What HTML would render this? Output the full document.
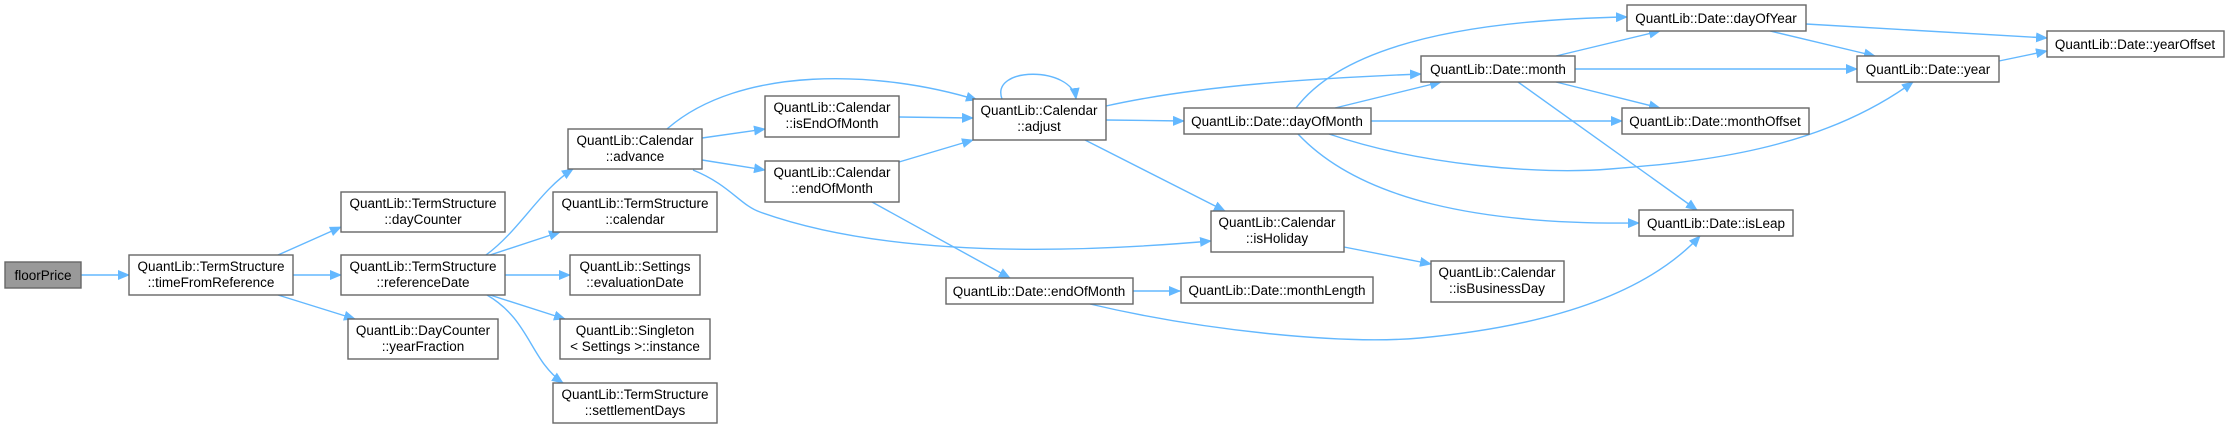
<!DOCTYPE html>
<html><head><meta charset="utf-8"><style>
html,body{margin:0;padding:0;background:#fff;}
svg{display:block;}
text{font-family:"Liberation Sans",Arial,sans-serif;font-size:13.5px;fill:#000;text-anchor:middle;}
.n{fill:#fff;stroke:#666;stroke-width:1.4;}
.e{fill:none;stroke:#63b8ff;stroke-width:1.4;}
</style></head><body>
<svg width="2229" height="429" viewBox="0 0 2229 429" xmlns="http://www.w3.org/2000/svg">
<defs><marker id="a" markerWidth="12" markerHeight="10" refX="11" refY="5" orient="auto" markerUnits="userSpaceOnUse"><path d="M0,0 L12,5 L0,10 z" fill="#63b8ff"/></marker></defs>
<g class="e" marker-end="url(#a)">
<path d="M81,275 L129,275"/>
<path d="M278,255 L341,227"/>
<path d="M293,275 L341,275"/>
<path d="M278,295 L355,319"/>
<path d="M486,255 C520,230 540,190 573,169"/>
<path d="M490,255 L560,232"/>
<path d="M505,275 L570,275"/>
<path d="M490,295 L565,319"/>
<path d="M487,295 C530,320 530,360 563,383"/>
<path d="M702,138 L765,129"/>
<path d="M702,160 L765,170"/>
<path d="M667,129 C740,65 880,70 977,100"/>
<path d="M693,170 C730,185 740,205 760,212 C880,255 1050,255 1211,241"/>
<path d="M899,117 L973,118"/>
<path d="M899,162 L973,140"/>
<path d="M872,202 L1010,278"/>
<path d="M1002,99 C990,66 1072,66 1076,99"/>
<path d="M1106,120 L1184,121"/>
<path d="M1106,106 C1200,85 1320,78 1421,74"/>
<path d="M1085,140 L1225,211"/>
<path d="M1133,291 L1180,291"/>
<path d="M1090,304 C1200,330 1340,345 1420,338 C1560,325 1650,290 1700,236"/>
<path d="M1344,247 L1431,264"/>
<path d="M1296,108 C1340,50 1450,20 1627,17"/>
<path d="M1335,108 L1441,82"/>
<path d="M1371,121 L1622,121"/>
<path d="M1329,134 C1420,165 1540,175 1610,169 C1700,162 1820,150 1913,82"/>
<path d="M1298,134 C1360,200 1480,225 1639,223"/>
<path d="M1556,56 L1660,31"/>
<path d="M1575,69 L1857,69"/>
<path d="M1556,82 L1660,108"/>
<path d="M1518,82 L1697,210"/>
<path d="M1806,24 L2047,38"/>
<path d="M1770,31 L1875,56"/>
<path d="M1999,61 L2047,51"/>
</g>
<rect x="5" y="262" width="76" height="26" fill="#999" stroke="#666" stroke-width="1.4"/><text x="43" y="280">floorPrice</text>
<rect class="n" x="129" y="255" width="164" height="40"/><text x="211" y="271">QuantLib::TermStructure</text><text x="211" y="287">::timeFromReference</text>
<rect class="n" x="341" y="192" width="164" height="40"/><text x="423" y="208">QuantLib::TermStructure</text><text x="423" y="224">::dayCounter</text>
<rect class="n" x="341" y="255" width="164" height="40"/><text x="423" y="271">QuantLib::TermStructure</text><text x="423" y="287">::referenceDate</text>
<rect class="n" x="348" y="319" width="150" height="40"/><text x="423" y="335">QuantLib::DayCounter</text><text x="423" y="351">::yearFraction</text>
<rect class="n" x="553" y="192" width="164" height="40"/><text x="635" y="208">QuantLib::TermStructure</text><text x="635" y="224">::calendar</text>
<rect class="n" x="570" y="255" width="130" height="40"/><text x="635" y="271">QuantLib::Settings</text><text x="635" y="287">::evaluationDate</text>
<rect class="n" x="560" y="319" width="150" height="40"/><text x="635" y="335">QuantLib::Singleton</text><text x="635" y="351">&lt; Settings &gt;::instance</text>
<rect class="n" x="553" y="383" width="164" height="40"/><text x="635" y="399">QuantLib::TermStructure</text><text x="635" y="415">::settlementDays</text>
<rect class="n" x="568" y="129" width="134" height="40"/><text x="635" y="145">QuantLib::Calendar</text><text x="635" y="161">::advance</text>
<rect class="n" x="765" y="96" width="134" height="41"/><text x="832" y="112">QuantLib::Calendar</text><text x="832" y="128">::isEndOfMonth</text>
<rect class="n" x="765" y="161" width="134" height="41"/><text x="832" y="177">QuantLib::Calendar</text><text x="832" y="193">::endOfMonth</text>
<rect class="n" x="973" y="99" width="133" height="41"/><text x="1039" y="115">QuantLib::Calendar</text><text x="1039" y="131">::adjust</text>
<rect class="n" x="946" y="278" width="187" height="26"/><text x="1039" y="296">QuantLib::Date::endOfMonth</text>
<rect class="n" x="1211" y="211" width="133" height="41"/><text x="1277" y="227">QuantLib::Calendar</text><text x="1277" y="243">::isHoliday</text>
<rect class="n" x="1184" y="108" width="187" height="26"/><text x="1277" y="126">QuantLib::Date::dayOfMonth</text>
<rect class="n" x="1181" y="277" width="192" height="26"/><text x="1277" y="295">QuantLib::Date::monthLength</text>
<rect class="n" x="1431" y="261" width="133" height="41"/><text x="1497" y="277">QuantLib::Calendar</text><text x="1497" y="293">::isBusinessDay</text>
<rect class="n" x="1421" y="56" width="154" height="26"/><text x="1498" y="74">QuantLib::Date::month</text>
<rect class="n" x="1627" y="5" width="179" height="26"/><text x="1716" y="23">QuantLib::Date::dayOfYear</text>
<rect class="n" x="1622" y="108" width="187" height="26"/><text x="1715" y="126">QuantLib::Date::monthOffset</text>
<rect class="n" x="1639" y="210" width="154" height="26"/><text x="1716" y="228">QuantLib::Date::isLeap</text>
<rect class="n" x="1857" y="56" width="142" height="26"/><text x="1928" y="74">QuantLib::Date::year</text>
<rect class="n" x="2047" y="31" width="177" height="26"/><text x="2135" y="49">QuantLib::Date::yearOffset</text>
</svg>
</body></html>
